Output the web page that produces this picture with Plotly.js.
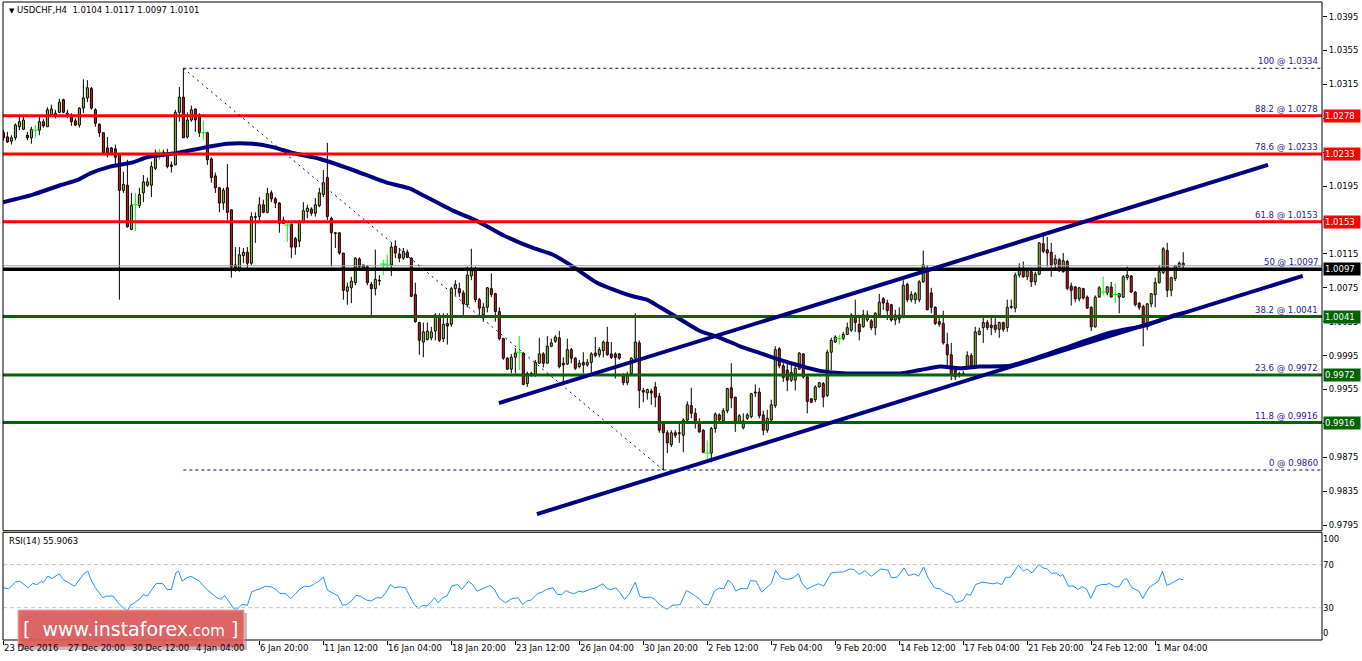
<!DOCTYPE html>
<html><head><meta charset="utf-8">
<script src="https://cdn.plot.ly/plotly-3.0.1.min.js"></script>
<style>html,body{margin:0;padding:0;background:#fff;}#chart{width:1362px;height:661px;}</style>
</head><body><div id="chart"></div>
<script>
// ---------------- DATA ----------------
const symbolTitle = "USDCHF,H4";
const lastOHLC = ["1.0104", "1.0117", "1.0097", "1.0101"];

const opens = [
1.0258,1.0253,1.0248,1.0252,1.0265,1.0262,1.0255,1.0252,1.0261,1.0261,
1.0271,1.0265,1.0279,1.0281,1.0282,1.0297,1.0281,1.0279,1.0272,1.0267,
1.0287,1.0299,1.0310,1.0285,1.0268,1.0258,1.0240,1.0240,1.0239,1.0232,
1.0190,1.0196,1.0144,1.0173,1.0172,1.0187,1.0196,1.0196,1.0216,1.0235,
1.0234,1.0234,1.0220,1.0220,1.0282,1.0300,1.0253,1.0273,1.0286,1.0279,
1.0258,1.0258,1.0227,1.0207,1.0193,1.0175,1.0193,1.0167,1.0102,1.0098,
1.0113,1.0117,1.0104,1.0158,1.0159,1.0173,1.0164,1.0187,1.0180,1.0175,
1.0151,1.0149,1.0150,1.0133,1.0130,1.0153,1.0165,1.0168,1.0163,1.0172,
1.0185,1.0205,1.0157,1.0140,1.0140,1.0116,1.0071,1.0075,1.0081,1.0109,
1.0102,1.0100,1.0079,1.0074,1.0084,1.0103,1.0102,1.0102,1.0124,1.0115,
1.0110,1.0117,1.0110,1.0067,1.0034,1.0011,1.0014,1.0016,1.0024,1.0041,
1.0015,1.0033,1.0032,1.0074,1.0074,1.0069,1.0055,1.0089,1.0096,1.0061,
1.0043,1.0052,1.0074,1.0068,1.0047,1.0015,0.9992,0.9979,0.9993,0.9999,
0.9998,0.9962,0.9972,0.9972,0.9986,0.9997,0.9986,1.0006,1.0012,1.0016,
0.9986,0.9985,1.0002,0.9992,0.9982,0.9987,0.9984,0.9987,0.9998,0.9996,
1.0001,1.0011,0.9997,0.9997,0.9997,0.9971,0.9963,0.9974,0.9992,1.0010,
0.9954,0.9951,0.9953,0.9958,0.9947,0.9915,0.9904,0.9890,0.9904,0.9904,
0.9901,0.9919,0.9936,0.9927,0.9915,0.9907,0.9880,0.9880,0.9909,0.9925,
0.9918,0.9930,0.9957,0.9946,0.9917,0.9910,0.9921,0.9923,0.9952,0.9952,
0.9925,0.9907,0.9919,0.9936,1.0003,0.9983,0.9978,0.9966,0.9966,0.9979,
0.9997,0.9970,0.9944,0.9943,0.9958,0.9962,0.9948,0.9999,1.0011,1.0015,
1.0015,1.0020,1.0025,1.0041,1.0032,1.0029,1.0037,1.0036,1.0028,1.0043,
1.0062,1.0057,1.0055,1.0037,1.0043,1.0040,1.0079,1.0061,1.0061,1.0061,
1.0082,1.0096,1.0069,1.0052,1.0035,1.0033,1.0008,0.9996,0.9978,0.9974,
0.9972,0.9982,0.9995,0.9982,1.0020,1.0028,1.0034,1.0031,1.0031,1.0026,
1.0034,1.0028,1.0052,1.0051,1.0090,1.0098,1.0088,1.0094,1.0082,1.0091,
1.0127,1.0120,1.0117,1.0103,1.0108,1.0094,1.0106,1.0077,1.0076,1.0062,
1.0074,1.0064,1.0052,1.0029,1.0064,1.0070,1.0069,1.0076,1.0067,1.0064,
1.0064,1.0087,1.0089,1.0070,1.0057,1.0053,1.0029,1.0056,1.0067,1.0081,
1.0093,1.0119,1.0072,1.0086,1.0100,1.0104];

const highs = [
1.0261,1.0259,1.0255,1.0269,1.0277,1.0277,1.0259,1.0265,1.0267,1.0277,
1.0274,1.0288,1.0291,1.0285,1.0298,1.0298,1.0285,1.0281,1.0275,1.0288,
1.0321,1.0320,1.0312,1.0287,1.0269,1.0258,1.0253,1.0241,1.0244,1.0233,
1.0212,1.0226,1.0187,1.0187,1.0193,1.0208,1.0205,1.0224,1.0238,1.0239,
1.0238,1.0239,1.0224,1.0285,1.0312,1.0334,1.0282,1.0290,1.0286,1.0281,
1.0272,1.0259,1.0229,1.0211,1.0194,1.0193,1.0221,1.0167,1.0123,1.0123,
1.0122,1.0123,1.0164,1.0164,1.0182,1.0179,1.0193,1.0190,1.0182,1.0176,
1.0159,1.0151,1.0151,1.0135,1.0155,1.0176,1.0173,1.0170,1.0181,1.0193,
1.0214,1.0246,1.0159,1.0141,1.0140,1.0116,1.0081,1.0088,1.0111,1.0111,
1.0102,1.0102,1.0082,1.0120,1.0090,1.0108,1.0114,1.0128,1.0131,1.0122,
1.0122,1.0120,1.0111,1.0081,1.0035,1.0034,1.0034,1.0029,1.0045,1.0045,
1.0045,1.0045,1.0076,1.0084,1.0081,1.0072,1.0100,1.0121,1.0100,1.0063,
1.0057,1.0076,1.0092,1.0069,1.0052,1.0016,0.9993,0.9997,1.0004,1.0018,
0.9999,0.9976,0.9976,0.9990,1.0016,0.9999,1.0018,1.0015,1.0019,1.0024,
0.9993,1.0015,1.0004,0.9993,0.9990,0.9999,0.9991,0.9999,1.0017,1.0005,
1.0013,1.0029,1.0011,0.9999,0.9998,0.9974,0.9976,0.9993,1.0045,1.0013,
0.9957,0.9956,0.9956,0.9964,0.9951,0.9915,0.9907,0.9907,0.9907,0.9915,
0.9921,0.9941,0.9957,0.9933,0.9921,0.9908,0.9895,0.9911,0.9928,0.9927,
0.9933,0.9957,0.9986,0.9946,0.9926,0.9927,0.9927,0.9951,0.9961,0.9957,
0.9930,0.9931,0.9943,1.0006,1.0005,0.9986,0.9990,0.9985,0.9985,0.9999,
0.9998,0.9972,0.9945,0.9960,0.9964,0.9964,1.0002,1.0016,1.0019,1.0020,
1.0023,1.0034,1.0045,1.0061,1.0041,1.0049,1.0048,1.0038,1.0046,1.0068,
1.0064,1.0061,1.0056,1.0049,1.0052,1.0084,1.0081,1.0071,1.0070,1.0084,
1.0119,1.0102,1.0075,1.0053,1.0043,1.0048,1.0022,1.0010,0.9980,0.9976,
0.9977,1.0000,0.9998,1.0029,1.0028,1.0040,1.0037,1.0042,1.0043,1.0035,
1.0035,1.0061,1.0061,1.0093,1.0104,1.0106,1.0098,1.0096,1.0094,1.0129,
1.0140,1.0135,1.0128,1.0114,1.0110,1.0116,1.0108,1.0081,1.0077,1.0076,
1.0075,1.0066,1.0053,1.0066,1.0077,1.0088,1.0077,1.0082,1.0080,1.0069,
1.0090,1.0100,1.0090,1.0071,1.0058,1.0055,1.0057,1.0069,1.0087,1.0102,
1.0123,1.0128,1.0088,1.0102,1.0106,1.0117];

const lows = [
1.0249,1.0246,1.0244,1.0249,1.0261,1.0261,1.0249,1.0245,1.0252,1.0255,
1.0264,1.0265,1.0277,1.0275,1.0281,1.0281,1.0275,1.0266,1.0266,1.0264,
1.0281,1.0294,1.0285,1.0265,1.0253,1.0232,1.0229,1.0232,1.0218,1.0061,
1.0187,1.0146,1.0143,1.0142,1.0169,1.0176,1.0194,1.0182,1.0214,1.0226,
1.0229,1.0216,1.0211,1.0220,1.0271,1.0252,1.0251,1.0271,1.0259,1.0253,
1.0249,1.0220,1.0199,1.0187,1.0164,1.0167,1.0155,1.0087,1.0094,1.0094,
1.0104,1.0098,1.0102,1.0128,1.0153,1.0163,1.0163,1.0176,1.0169,1.0140,
1.0151,1.0129,1.0110,1.0114,1.0123,1.0151,1.0157,1.0160,1.0159,1.0170,
1.0182,1.0155,1.0100,1.0122,1.0114,1.0061,1.0055,1.0057,1.0078,1.0098,
1.0096,1.0078,1.0041,1.0066,1.0078,1.0090,1.0098,1.0089,1.0110,1.0105,
1.0108,1.0110,1.0064,1.0034,0.9996,0.9993,1.0013,1.0013,1.0013,1.0011,
1.0011,1.0008,1.0029,1.0066,1.0064,1.0041,1.0052,1.0084,1.0058,1.0043,
1.0035,1.0046,1.0064,1.0035,1.0013,0.9990,0.9978,0.9974,0.9974,0.9978,
0.9960,0.9958,0.9970,0.9970,0.9986,0.9981,0.9986,1.0005,1.0010,0.9980,
0.9964,0.9984,0.9986,0.9978,0.9980,0.9974,0.9982,0.9972,0.9993,0.9993,
0.9993,0.9995,0.9991,0.9968,0.9990,0.9960,0.9960,0.9972,0.9991,0.9933,
0.9940,0.9943,0.9937,0.9934,0.9904,0.9860,0.9880,0.9887,0.9898,0.9892,
0.9881,0.9917,0.9921,0.9909,0.9904,0.9880,0.9872,0.9869,0.9904,0.9917,
0.9917,0.9927,0.9933,0.9905,0.9915,0.9908,0.9919,0.9921,0.9946,0.9921,
0.9901,0.9904,0.9917,0.9933,0.9980,0.9964,0.9953,0.9964,0.9954,0.9978,
0.9968,0.9927,0.9939,0.9940,0.9957,0.9934,0.9946,0.9978,1.0010,1.0008,
1.0013,1.0019,1.0023,1.0023,1.0013,1.0028,1.0035,1.0025,1.0019,1.0041,
1.0049,1.0037,1.0035,1.0031,1.0033,1.0039,1.0058,1.0058,1.0056,1.0058,
1.0081,1.0049,1.0045,1.0031,1.0029,1.0008,0.9980,0.9966,0.9966,0.9969,
0.9971,0.9980,0.9980,0.9980,1.0019,1.0010,1.0025,1.0019,1.0022,1.0016,
1.0023,1.0023,1.0050,1.0046,1.0087,1.0087,1.0084,1.0076,1.0078,1.0090,
1.0116,1.0100,1.0088,1.0098,1.0094,1.0093,1.0072,1.0054,1.0058,1.0059,
1.0061,1.0050,1.0024,1.0028,1.0064,1.0066,1.0066,1.0064,1.0057,1.0045,
1.0063,1.0084,1.0069,1.0053,1.0049,1.0006,1.0025,1.0052,1.0052,1.0080,
1.0091,1.0064,1.0065,1.0083,1.0099,1.0097];

const closes = [
1.0252,1.0247,1.0252,1.0267,1.0271,1.0273,1.0252,1.0262,1.0261,1.0271,
1.0266,1.0285,1.0286,1.0277,1.0294,1.0282,1.0279,1.0271,1.0267,1.0287,
1.0299,1.0311,1.0287,1.0269,1.0258,1.0234,1.0234,1.0234,1.0229,1.0190,
1.0197,1.0147,1.0172,1.0173,1.0185,1.0200,1.0200,1.0218,1.0234,1.0235,
1.0235,1.0218,1.0218,1.0282,1.0300,1.0252,1.0273,1.0285,1.0273,1.0258,
1.0258,1.0226,1.0205,1.0193,1.0175,1.0190,1.0164,1.0100,1.0098,1.0114,
1.0117,1.0104,1.0159,1.0159,1.0173,1.0164,1.0186,1.0180,1.0175,1.0151,
1.0155,1.0149,1.0123,1.0123,1.0153,1.0166,1.0169,1.0163,1.0173,1.0187,
1.0199,1.0159,1.0140,1.0139,1.0116,1.0072,1.0076,1.0083,1.0110,1.0100,
1.0098,1.0081,1.0074,1.0085,1.0083,1.0103,1.0102,1.0123,1.0116,1.0110,
1.0118,1.0111,1.0065,1.0035,1.0013,1.0023,1.0024,1.0023,1.0043,1.0013,
1.0032,1.0030,1.0074,1.0079,1.0069,1.0056,1.0090,1.0097,1.0061,1.0051,
1.0052,1.0075,1.0067,1.0047,1.0015,0.9992,0.9979,0.9993,0.9998,0.9999,
0.9961,0.9974,0.9974,0.9987,0.9997,0.9986,1.0006,1.0010,1.0017,0.9982,
0.9984,1.0002,0.9992,0.9980,0.9986,0.9984,0.9987,0.9997,0.9995,1.0002,
1.0011,0.9996,0.9993,0.9993,0.9992,0.9963,0.9973,0.9992,1.0011,0.9954,
0.9952,0.9955,0.9951,0.9946,0.9907,0.9904,0.9892,0.9904,0.9901,0.9903,
0.9919,0.9937,0.9927,0.9915,0.9905,0.9881,0.9880,0.9909,0.9926,0.9919,
0.9930,0.9956,0.9945,0.9917,0.9924,0.9918,0.9925,0.9950,0.9951,0.9924,
0.9907,0.9921,0.9937,1.0002,0.9983,0.9969,0.9966,0.9975,0.9980,0.9998,
0.9970,0.9941,0.9940,0.9958,0.9963,0.9946,0.9999,1.0013,1.0017,1.0015,
1.0020,1.0028,1.0043,1.0034,1.0023,1.0043,1.0043,1.0028,1.0045,1.0058,
1.0057,1.0048,1.0037,1.0043,1.0038,1.0078,1.0061,1.0067,1.0068,1.0082,
1.0102,1.0049,1.0052,1.0033,1.0032,1.0010,0.9996,0.9972,0.9970,0.9973,
0.9974,0.9995,0.9982,1.0023,1.0024,1.0034,1.0028,1.0028,1.0026,1.0034,
1.0026,1.0052,1.0053,1.0090,1.0098,1.0088,1.0095,1.0082,1.0091,1.0128,
1.0118,1.0116,1.0102,1.0109,1.0095,1.0107,1.0074,1.0072,1.0062,1.0075,
1.0063,1.0051,1.0029,1.0064,1.0075,1.0070,1.0076,1.0064,1.0067,1.0068,
1.0088,1.0090,1.0070,1.0055,1.0052,1.0032,1.0056,1.0068,1.0081,1.0094,
1.0121,1.0072,1.0087,1.0101,1.0104,1.0101];

// date labels: one every 16 H4 bars
const dateTickIdx = [0,16,32,48,64,80,96,112,128,144,160,176,192,208,224,240,256,272,288];
const dateTickText = ["23 Dec 2016","27 Dec 20:00","30 Dec 12:00","4 Jan 04:00","6 Jan 20:00","11 Jan 12:00",
  "16 Jan 04:00","18 Jan 20:00","23 Jan 12:00","26 Jan 04:00","30 Jan 20:00","2 Feb 12:00","7 Feb 04:00",
  "9 Feb 20:00","14 Feb 12:00","17 Feb 04:00","21 Feb 20:00","24 Feb 12:00","1 Mar 04:00"];

// moving average: [bar index, price]
const maPoints = [[-0.1,1.0176],[7.4,1.0185],[14.2,1.0196],[18.4,1.0202],[21.7,1.0210],[26.7,1.0218],[32.4,1.0223],
 [35.9,1.0229],[43.4,1.0234],[50.9,1.0241],[55.9,1.0245],[62.4,1.0245],[67.4,1.0241],[72.4,1.0234],[79.2,1.0227],
 [87.4,1.0214],[95.9,1.0199],[101.7,1.0192],[104.2,1.0186],[112.4,1.0166],[118.4,1.0154],[125.0,1.0137],[132.4,1.0122],
 [137.4,1.0114],[142.4,1.0100],[148.4,1.0081],[154.2,1.0070],[157.4,1.0065],[160.9,1.0061],[164.2,1.0052],[169.2,1.0038],
 [174.2,1.0024],[179.2,1.0016],[184.2,1.0006],[189.2,0.9998],[194.2,0.9990],[199.2,0.9983],[204.2,0.9977],[210.9,0.9974],
 [217.4,0.9974],[224.2,0.9974],[229.2,0.9978],[234.2,0.9982],[239.2,0.9980],[244.2,0.9982],[251.7,0.9983],[256.7,0.9990],
 [264.2,1.0002],[276.7,1.0022],[285.9,1.0031],[292.4,1.0042],[295,1.0045]];

// RSI(14): [bar index, value]
const rsiPoints = [[0,48.5],[1.3,47.5],[3.0,53.7],[4.1,54.6],[5.7,50.0],[6.2,48.5],[7.3,52.5],[8.4,51.5],[9.5,54.6],[10.0,53.1],
 [11.1,59.2],[12.2,56.8],[12.7,58.6],[14.0,61.4],[14.9,56.2],[16.5,53.1],[17.8,50.0],[18.7,54.6],[20.3,62.3],[21.1,63.8],
 [21.9,56.2],[23.0,48.5],[24.9,39.2],[25.7,40.8],[27.4,40.8],[29.0,33.1],[30.1,30.0],[31.0,26.9],[31.7,32.2],[32.8,34.6],
 [34.4,39.2],[35.0,42.3],[36.0,40.8],[37.1,46.9],[38.2,52.5],[39.8,52.5],[40.9,46.9],[42.0,46.9],[43.1,62.3],[43.8,63.8],
 [44.7,54.6],[45.8,57.7],[46.9,59.2],[48.0,56.8],[49.0,54.6],[50.7,47.5],[52.3,42.3],[53.4,39.2],[54.5,37.7],[55.3,41.4],
 [56.6,34.6],[57.7,28.5],[58.6,29.1],[59.7,33.1],[61.0,32.2],[62.1,44.8],[63.1,46.3],[64.2,47.5],[65.5,50.0],[66.9,49.4],
 [68.2,46.9],[69.1,43.2],[70.7,42.9],[71.8,38.3],[72.9,42.3],[74.0,46.9],[75.3,50.0],[76.4,49.4],[77.5,51.5],[78.9,54.6],
 [80.0,58.6],[81.0,46.3],[82.7,42.9],[83.7,40.8],[84.8,32.2],[85.9,33.1],[87.0,36.2],[88.1,41.4],[89.2,40.8],[90.8,37.1],
 [91.9,36.2],[93.3,39.2],[94.6,39.2],[95.7,44.5],[96.8,51.5],[97.8,48.5],[99.1,49.4],[100.5,48.5],[101.6,40.8],[102.7,33.1],
 [103.8,29.4],[104.9,32.2],[106.0,31.5],[107.0,36.2],[107.8,39.2],[108.7,34.6],[109.8,39.2],[110.9,40.8],[112.1,50.0],[113.6,51.5],
 [114.6,46.9],[116.3,54.6],[117.3,51.5],[118.4,45.4],[119.5,46.9],[121.7,50.6],[122.8,46.9],[123.9,39.2],[125.5,34.6],[127.1,38.3],
 [128.7,39.2],[129.8,33.1],[130.9,36.2],[132.0,37.1],[133.6,43.2],[134.7,44.5],[135.8,46.9],[137.4,48.5],[138.5,42.3],[139.6,42.3],
 [140.7,46.0],[141.7,43.8],[142.8,43.2],[143.9,45.4],[145.0,44.5],[146.6,46.9],[148.2,48.5],[149.9,52.2],[151.0,47.5],[152.0,46.9],
 [153.1,48.5],[154.2,43.8],[155.3,37.7],[156.4,42.3],[158.0,53.7],[159.1,40.8],[160.2,39.2],[161.8,39.8],[162.9,37.7],[164.0,33.1],
 [165.9,28.5],[167.2,32.2],[169.2,32.8],[170.8,46.0],[172.5,42.3],[174.1,37.7],[175.2,33.1],[176.3,32.8],[177.9,46.0],[179.0,48.2],
 [180.1,47.5],[181.2,55.5],[182.2,52.5],[183.1,45.4],[184.4,47.8],[186.0,47.5],[186.8,55.2],[188.2,54.6],[189.6,44.5],[190.9,48.5],
 [192.0,52.5],[193.1,64.5],[194.4,57.7],[195.8,56.2],[197.2,57.1],[198.8,61.4],[199.6,53.1],[200.9,47.5],[202.4,50.0],[203.8,52.2],
 [205.1,50.0],[207.0,62.3],[208.3,62.9],[210.0,63.2],[211.6,66.0],[212.7,65.4],[214.0,60.8],[215.4,64.5],[217.0,59.2],[218.1,62.3],
 [219.4,66.0],[221.2,64.8],[222.0,57.7],[223.5,58.3],[225.2,66.9],[226.3,59.8],[227.9,61.4],[228.8,59.2],[230.1,67.8],[231.2,57.7],
 [232.8,48.5],[234.2,47.5],[235.5,43.8],[237.1,41.4],[238.2,34.6],[239.9,36.8],[240.9,42.9],[241.8,41.4],[243.1,51.5],[244.7,53.7],
 [246.4,53.1],[247.5,52.2],[248.5,53.1],[249.6,51.5],[250.7,58.3],[251.8,58.3],[253.8,69.4],[255.1,63.8],[255.9,66.0],[257.2,62.3],
 [258.9,70.0],[260.0,66.9],[261.0,66.0],[262.1,61.7],[263.2,62.3],[264.3,59.2],[264.9,60.8],[266.3,50.0],[267.6,50.0],[268.7,46.9],
 [269.7,49.4],[270.8,47.5],[271.9,38.6],[273.3,50.0],[274.6,51.5],[275.7,51.5],[276.6,52.5],[277.9,49.4],[279.0,49.4],[280.1,56.2],
 [280.9,56.8],[282.2,48.5],[283.9,45.4],[284.9,38.6],[286.4,48.5],[287.7,51.5],[288.8,54.6],[289.8,63.8],[290.9,50.6],[292.0,52.5],
 [293.1,55.2],[294.0,56.8],[295.0,55.9]];
const rsiLast = "55.9063";
const rsiLevels = [70, 30];

// Fibonacci retracement (bar 45 high -> bar 165 low)
const fibPct   = ["100","88.2","78.6","61.8","50","38.2","23.6","11.8","0"];
const fibPrice = [1.0334,1.0278,1.0233,1.0153,1.0097,1.0041,0.9972,0.9916,0.9860];
const fibStartIdx = 45, fibEndIdx = 165;

// channel trend lines [bar index], [price]
const upperX = [123.9, 316.2], upperY = [0.9939, 1.0220];
const lowerX = [133.4, 324.9], lowerY = [0.9808, 1.0089];
const bidPrice = 1.0101;

const priceTicks = [0.9795,0.9835,0.9875,0.9915,0.9955,0.9995,1.0035,1.0075,1.0115,1.0155,1.0195,1.0235,1.0275,1.0315,1.0355,1.0395];
// tick labels fully covered by the level tags in the original are not printed
const hiddenTickLabels = [0.9915, 1.0155, 1.0235];

// ---------------- STYLE ----------------
const FONT = 'DejaVu Sans, Verdana, sans-serif';
const NAVY = '#000080';
const xRange = [-0.1, 329.7];
const yRange = [0.97884, 1.04122];
const levelStyle = {
  "100":{kind:'dash'}, "0":{kind:'dash'},
  "88.2":{kind:'solid',color:'#ff0000',tag:'#ff0000',w:3},
  "78.6":{kind:'solid',color:'#ff0000',tag:'#ff0000',w:3},
  "61.8":{kind:'solid',color:'#ff0000',tag:'#ff0000',w:3},
  "50":{kind:'solid',color:'#000000',tag:'#000000',w:3.5},
  "38.2":{kind:'solid',color:'#006400',tag:'#006400',w:3},
  "23.6":{kind:'solid',color:'#006400',tag:'#006400',w:3},
  "11.8":{kind:'solid',color:'#006400',tag:'#006400',w:3}
};

// ---------------- BUILD ----------------
const N = closes.length;
const upX=[],upB=[],upH=[],dnX=[],dnB=[],dnH=[],djX=[],djY=[];
const wkX=[],wkY=[],dwX=[],dwY=[];
for (let i=0;i<N;i++){
  const o=opens[i], c=closes[i], h=highs[i], l=lows[i];
  const top=Math.max(o,c), bot=Math.min(o,c);
  if (c>o){ upX.push(i); upB.push(bot); upH.push(top-bot); }
  else if (c<o){ dnX.push(i); dnB.push(bot); dnH.push(top-bot); }
  else { djX.push(i); djY.push(o); dwX.push(i,i,null); dwY.push(h,l,null); continue; }
  wkX.push(i,i,null,i,i,null); wkY.push(h,top,null,bot,l,null);
}

const traces = [
  {type:'scatter', mode:'lines', x:wkX, y:wkY, line:{color:'#000',width:1}, hoverinfo:'skip', xaxis:'x', yaxis:'y'},
  {type:'scatter', mode:'lines', x:dwX, y:dwY, line:{color:'#00ff00',width:1}, hoverinfo:'skip', xaxis:'x', yaxis:'y'},
  {type:'bar', x:upX, y:upH, base:upB, width:0.5, marker:{color:'#9acd32', line:{color:'#000',width:1}}, hoverinfo:'skip', xaxis:'x', yaxis:'y'},
  {type:'bar', x:dnX, y:dnH, base:dnB, width:0.5, marker:{color:'#e41010', line:{color:'#000',width:1}}, hoverinfo:'skip', xaxis:'x', yaxis:'y'},
  {type:'scatter', mode:'markers', x:djX, y:djY, marker:{symbol:'line-ew', size:5, line:{color:'#00ff00',width:1}}, hoverinfo:'skip', xaxis:'x', yaxis:'y'},
  {type:'scatter', mode:'lines', x:maPoints.map(p=>p[0]), y:maPoints.map(p=>p[1]), line:{color:NAVY,width:4,shape:'spline',smoothing:0.6}, hoverinfo:'skip', xaxis:'x', yaxis:'y'},
  {type:'scatter', mode:'lines', x:rsiPoints.map(p=>p[0]), y:rsiPoints.map(p=>p[1]), line:{color:'#1e90ff',width:1}, hoverinfo:'skip', xaxis:'x2', yaxis:'y2'}
];

const shapes = [];
fibPct.forEach((p,k)=>{
  const st = levelStyle[p];
  if (st.kind==='dash'){
    shapes.push({type:'line', xref:'x', yref:'y', x0:fibStartIdx, x1:xRange[1], y0:fibPrice[k], y1:fibPrice[k], line:{color:NAVY,width:1,dash:'3px,3px'}});
  } else {
    shapes.push({type:'line', xref:'x domain', yref:'y', x0:0, x1:1, y0:fibPrice[k], y1:fibPrice[k], line:{color:st.color,width:st.w}});
  }
});
shapes.push({type:'line', xref:'x domain', yref:'y', x0:0, x1:1, y0:bidPrice, y1:bidPrice, line:{color:'#9aa4ae',width:1}});
shapes.push({type:'line', xref:'x', yref:'y', x0:fibStartIdx, x1:fibEndIdx, y0:fibPrice[0], y1:fibPrice[fibPrice.length-1], line:{color:NAVY,width:1,dash:'2px,4px'}});
shapes.push({type:'line', xref:'x', yref:'y', x0:upperX[0], x1:upperX[1], y0:upperY[0], y1:upperY[1], line:{color:NAVY,width:4}});
shapes.push({type:'line', xref:'x', yref:'y', x0:lowerX[0], x1:lowerX[1], y0:lowerY[0], y1:lowerY[1], line:{color:NAVY,width:4}});
rsiLevels.forEach(v=>shapes.push({type:'line', xref:'x domain', yref:'y2', x0:0, x1:1, y0:v, y1:v, line:{color:'#c4c4c4',width:1,dash:'4px,3px'}}));
shapes.push({type:'rect', xref:'x domain', yref:'y domain', x0:0, x1:1, y0:0, y1:1, line:{color:'#000',width:1}, fillcolor:'rgba(0,0,0,0)'});
shapes.push({type:'rect', xref:'x domain', yref:'y2 domain', x0:0, x1:1, y0:0, y1:1, line:{color:'#000',width:1}, fillcolor:'rgba(0,0,0,0)'});
shapes.push({type:'rect', xref:'paper', yref:'paper', x0:0.0137, x1:0.1850, y0:-0.0157, y1:0.0423, line:{width:0}, fillcolor:'rgba(110,110,110,0.45)'});
shapes.push({type:'rect', xref:'paper', yref:'paper', x0:0.0114, x1:0.1827, y0:-0.0110, y1:0.0470, line:{color:'#f2a4a4',width:1}, fillcolor:'rgba(222,92,92,0.92)'});

const annotations = [];
annotations.push({xref:'paper', yref:'paper', x:0.003, y:0.9875, xanchor:'left', yanchor:'middle', showarrow:false,
  text:'<span style="font-size:7px">▼</span>&nbsp;'+symbolTitle+'&nbsp;&nbsp;'+lastOHLC.join('&nbsp;'), font:{family:FONT,size:8.5,color:'#000'}});
fibPct.forEach((p,k)=>{
  annotations.push({xref:'paper', yref:'y', x:1, y:fibPrice[k], xanchor:'right', yanchor:'bottom', xshift:-2, yshift:0, showarrow:false,
    text:p+' @ '+fibPrice[k].toFixed(4), font:{family:FONT,size:8.5,color:'#23238a'}});
  const st = levelStyle[p];
  if (st.tag){
    annotations.push({xref:'paper', yref:'y', x:1, y:fibPrice[k], xanchor:'left', yanchor:'middle', xshift:1, showarrow:false,
      text:fibPrice[k].toFixed(4), bgcolor:st.tag, borderpad:1, width:34, align:'left', font:{family:FONT,size:8.5,color:'#fff'}});
  }
});
annotations.push({xref:'paper', yref:'paper', x:0.003, y:0.155, xanchor:'left', yanchor:'middle', showarrow:false,
  text:'RSI(14) '+rsiLast, font:{family:FONT,size:8.5,color:'#000'}});
dateTickIdx.forEach((ix,k)=>annotations.push({xref:'x', yref:'paper', x:ix, y:-0.0125, xanchor:'left', yanchor:'middle', xshift:-1, showarrow:false,
  text:dateTickText[k], font:{family:FONT,size:8.5,color:'#000'}}));
annotations.push({xref:'paper', yref:'paper', x:0.097, y:0.0175, xanchor:'center', yanchor:'middle', showarrow:false,
  text:'[&nbsp;&nbsp;www.instaforex<span style="font-size:15px">.com</span>&nbsp;]', font:{family:FONT,size:19,color:'#ffffff'}});

const layout = {
  width:1362, height:661, margin:{l:3,r:40,t:2,b:21,pad:0},
  paper_bgcolor:'#ffffff', plot_bgcolor:'#ffffff', showlegend:false, barmode:'overlay',
  font:{family:FONT,size:8.5,color:'#000'},
  xaxis:{domain:[0,1], range:xRange, anchor:'y', showticklabels:false, ticks:'', showgrid:false, zeroline:false, showline:false, fixedrange:true},
  xaxis2:{domain:[0,1], range:xRange, anchor:'y2', matches:'x', tickvals:dateTickIdx, ticks:'outside', ticklen:4, tickcolor:'#000',
          showticklabels:false, showgrid:false, zeroline:false, showline:false},
  yaxis:{domain:[0.1713,1], range:yRange, side:'right', anchor:'x', tickvals:priceTicks,
         ticktext:priceTicks.map(v=>hiddenTickLabels.includes(v)?'':v.toFixed(4)),
         ticks:'outside', ticklen:4, tickcolor:'#000', showgrid:false, zeroline:false, showline:false,
         tickfont:{family:FONT,size:8.5,color:'#000'}},
  yaxis2:{domain:[0,0.1688], range:[0,100], side:'right', anchor:'x2', tickvals:[93.5,70,30,6.5], ticktext:['100','70','30','0'],
          ticks:'', showgrid:false, zeroline:false, showline:false, tickfont:{family:FONT,size:8.5,color:'#000'}},
  shapes:shapes, annotations:annotations
};

Plotly.newPlot('chart', traces, layout, {staticPlot:true, displayModeBar:false});
</script>
</body></html>
